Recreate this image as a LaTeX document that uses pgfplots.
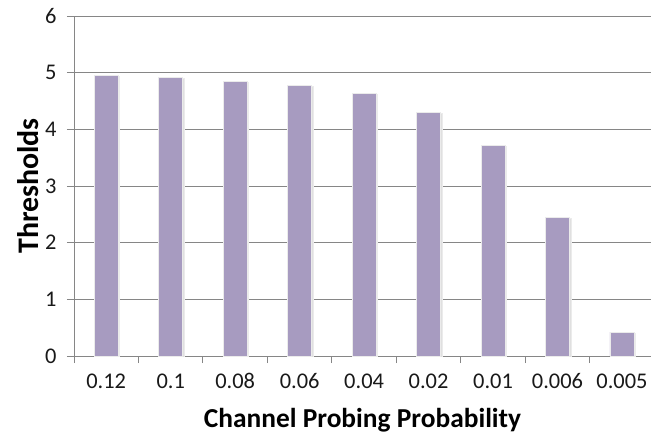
\documentclass[border=0pt]{standalone}
\usepackage{fontspec}
\setmainfont{Carlito}
\usepackage{pgfplots}
\pgfplotsset{compat=1.18}
\definecolor{barcol}{HTML}{A79BC0}
\definecolor{gridcol}{HTML}{868686}
\begin{document}
\begin{tikzpicture}
\useasboundingbox (-74bp,-79bp) rectangle (577bp,356bp);
\begin{axis}[
  scale only axis,
  width=577bp, height=340bp,
  at={(0,0)}, anchor=south west,
  xmin=-0.5, xmax=8.45,
  ymin=0, ymax=6,
  ytick={0,1,...,6},
  xtick={0,...,8},
  xticklabels={0.12,0.1,0.08,0.06,0.04,0.02,0.01,0.006,0.005},
  minor xtick={-0.5,0.5,...,7.5},
  major x tick style={draw=none},
  minor x tick style={draw=gridcol, line width=0.9pt},
  minor tick length=7bp,
  major tick length=7bp,
  tick align=outside,
  y tick style={draw=gridcol, line width=0.9pt},
  ymajorgrids,
  grid style={draw=gridcol, line width=0.9pt},
  axis x line*=bottom,
  axis y line*=left,
  axis line style={draw=gridcol, line width=0.9pt, -},
  /pgf/number format/assume math mode=true,
  tick label style={font=\fontsize{22.5}{26}\selectfont, text=black!90},
  xticklabel style={yshift=-7bp},
  yticklabel style={xshift=-7bp},
  xlabel={\textbf{Channel Probing Probability}},
  ylabel={\textbf{Thresholds}},
  xlabel style={font=\fontsize{27.5}{32}\selectfont, yshift=-12bp},
  ylabel style={font=\fontsize{30}{34}\selectfont, yshift=0bp},
  ybar, bar width=24bp,
]
\addplot[fill=barcol, draw=white!92!black, line width=0.6pt,
  preaction={fill=black!12, transform canvas={xshift=1.5bp, yshift=-1bp}}]
  coordinates {(0,4.95) (1,4.92) (2,4.85) (3,4.77) (4,4.64) (5,4.30) (6,3.72) (7,2.45) (8,0.42)};
\end{axis}
\end{tikzpicture}
\end{document}
